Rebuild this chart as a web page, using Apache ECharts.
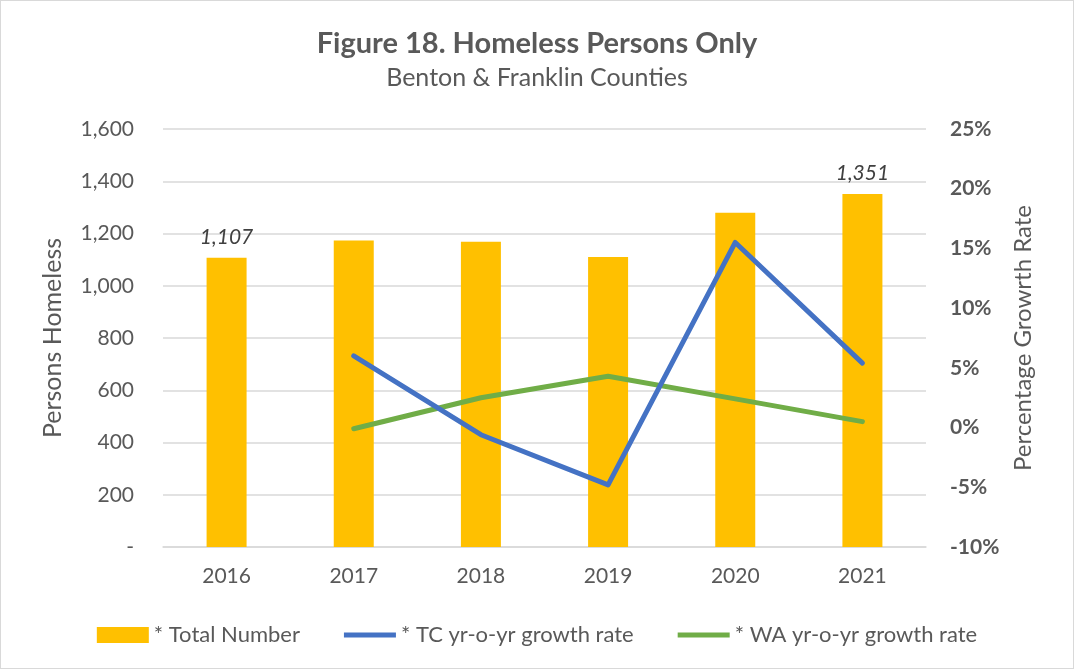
<!DOCTYPE html>
<html>
<head>
<meta charset="utf-8">
<script src="https://cdn.jsdelivr.net/npm/echarts@6/dist/echarts.min.js"></script>
<style>
  html, body { margin: 0; padding: 0; background: #fff; }
  #main { width: 1072px; height: 667px; border: 1px solid #d9d9d9; }
</style>
</head>
<body>
<div id="main"></div>
<script>
const years = ["2016", "2017", "2018", "2019", "2020", "2021"];
const totalNumber = [1107, 1173, 1168, 1110, 1279, 1351];
const tcGrowth = [null, 6.0, -0.6, -4.8, 15.5, 5.4];
const waGrowth = [null, -0.1, 2.5, 4.3, 2.4, 0.5];
const labelledYears = ["2016", "2021"];

const font = "Lato, 'Open Sans', sans-serif";
const grey = "#595959";
const lineIcon = "path://M0,0 L54,0 L54,5 L0,5 Z";

const chart = echarts.init(document.getElementById("main"));

const option = {
  textStyle: { fontFamily: font },
  title: [
    {
      text: "Figure 18. Homeless Persons Only",
      left: "center",
      top: 23,
      textStyle: { fontSize: 29, fontWeight: "bold", color: grey, fontFamily: font },
    },
    {
      text: "Benton & Franklin Counties",
      left: "center",
      top: 59,
      textStyle: { fontSize: 25, fontWeight: "normal", color: grey, fontFamily: font },
    },
  ],
  grid: { left: 162, right: 147, top: 128, bottom: 121 },
  legend: {
    left: "center",
    top: 618,
    itemGap: 44,
    itemWidth: 52,
    itemHeight: 16,
    textStyle: { fontSize: 22, color: grey, fontFamily: font },
    data: [
      { name: "* Total Number", icon: "rect" },
      { name: "* TC yr-o-yr growth rate", icon: lineIcon },
      { name: "* WA yr-o-yr growth rate", icon: lineIcon },
    ],
  },
  xAxis: {
    type: "category",
    data: years,
    axisLine: { lineStyle: { color: "#d9d9d9", width: 1.5 } },
    axisTick: { show: false },
    axisLabel: { fontSize: 21, color: grey, margin: 19 },
  },
  yAxis: [
    {
      type: "value",
      min: 0,
      max: 1600,
      interval: 200,
      name: "Persons Homeless",
      nameLocation: "middle",
      nameGap: 98,
      nameRotate: 90,
      nameTextStyle: { fontSize: 25, color: grey },
      axisLine: { show: false },
      axisTick: { show: false },
      axisLabel: {
        fontSize: 21,
        color: grey,
        margin: 29,
        formatter: (v) => (v === 0 ? "-" : v.toLocaleString("en-US")),
      },
      splitLine: { lineStyle: { color: "#d9d9d9", width: 1.5 } },
    },
    {
      type: "value",
      min: -10,
      max: 25,
      interval: 5,
      name: "Percentage Growrth Rate",
      nameLocation: "middle",
      nameGap: 85,
      nameRotate: 90,
      nameTextStyle: { fontSize: 24, color: grey },
      axisLine: { show: false },
      axisTick: { show: false },
      axisLabel: {
        fontSize: 21,
        fontWeight: "bold",
        color: grey,
        margin: 24,
        formatter: "{value}%",
      },
      splitLine: { show: false },
    },
  ],
  series: [
    {
      name: "* Total Number",
      type: "bar",
      barWidth: 40,
      itemStyle: { color: "#FFC000" },
      data: totalNumber.map((v, i) => ({
        value: v,
        label: {
          show: labelledYears.includes(years[i]),
          position: "top",
          distance: 10,
          fontSize: 21,
          fontStyle: "italic",
          color: "#404040",
          formatter: (p) => p.value.toLocaleString("en-US"),
        },
      })),
      z: 1,
    },
    {
      name: "* TC yr-o-yr growth rate",
      type: "line",
      yAxisIndex: 1,
      data: tcGrowth,
      symbol: "none",
      color: "#4472C4",
      lineStyle: { color: "#4472C4", width: 5, cap: "round", join: "round" },
      z: 3,
    },
    {
      name: "* WA yr-o-yr growth rate",
      type: "line",
      yAxisIndex: 1,
      data: waGrowth,
      symbol: "none",
      color: "#70AD47",
      lineStyle: { color: "#70AD47", width: 5, cap: "round", join: "round" },
      z: 2,
    },
  ],
};

chart.setOption(option);
</script>
</body>
</html>
